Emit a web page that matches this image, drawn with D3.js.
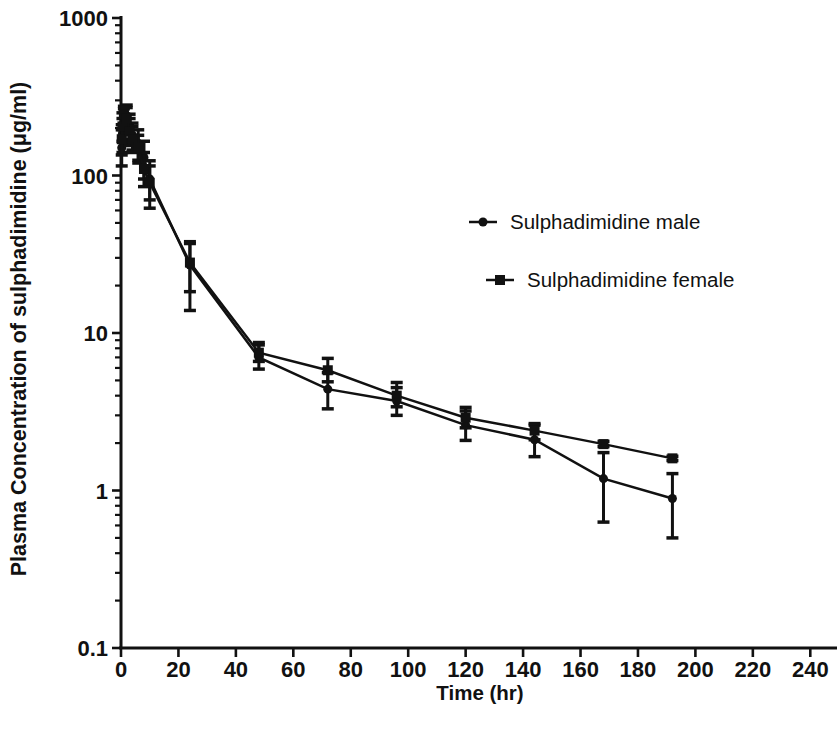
<!DOCTYPE html>
<html>
<head>
<meta charset="utf-8">
<script src="https://cdn.jsdelivr.net/npm/d3@7"></script>
<style>
  body { margin: 0; background: #fff; }
  text { font-family: "Liberation Sans", Arial, sans-serif; fill: #111; }
  .tick-label { font-family: "Liberation Sans Narrow", "Arial Narrow", "Liberation Sans", sans-serif; }
</style>
</head>
<body>
<div id="chart"></div>
<script>
const width = 837;
const height = 734;

// sampling times (hr)
const times = [0.25, 0.5, 1, 2, 3, 4, 6, 8, 10, 24, 48, 72, 96, 120, 144, 168, 192];

// male: mean, lower and upper whisker ends
const maleMean = [150, 185, 220, 240, 200, 180, 160, 130, 95, 27, 7.0, 4.4, 3.7, 2.6, 2.1, 1.19, 0.89];
const maleLow  = [115, 140, 170, 190, 160, 145, 125, 95, 62, 13.9, 5.9, 3.3, 3.0, 2.08, 1.64, 0.63, 0.50];
const maleHigh = [195, 230, 265, 280, 245, 215, 195, 165, 124, 37, 8.4, 5.6, 4.5, 3.2, 2.6, 1.74, 1.28];

// female: mean, lower and upper whisker ends
const femaleMean = [170, 205, 245, 230, 190, 170, 150, 110, 90, 28, 7.5, 5.8, 4.0, 2.9, 2.4, 1.97, 1.6];
const femaleLow  = [135, 165, 200, 185, 155, 140, 120, 85, 70, 18.3, 6.6, 4.9, 3.4, 2.5, 2.1, 1.9, 1.55];
const femaleHigh = [210, 250, 275, 270, 230, 205, 180, 140, 115, 38, 8.7, 6.9, 4.85, 3.37, 2.66, 2.05, 1.65];

const xTicks = [0, 20, 40, 60, 80, 100, 120, 140, 160, 180, 200, 220, 240];
const yTicks = [0.1, 1, 10, 100, 1000];
const yLabels = ['0.1', '1', '10', '100', '1000'];

const seriesNames = ['Sulphadimidine male', 'Sulphadimidine female'];

const toRows = (mean, low, high) =>
  times.map((t, i) => ({t, v: mean[i], lo: low[i], hi: high[i]}));

const series = [
  {name: seriesNames[0], shape: 'circle', rows: toRows(maleMean, maleLow, maleHigh)},
  {name: seriesNames[1], shape: 'square', rows: toRows(femaleMean, femaleLow, femaleHigh)}
];

const x = d3.scaleLinear().domain([0, 250]).range([121, 839]);
const y = d3.scaleLog().domain([0.1, 1000]).range([648, 18]);

const svg = d3.select('#chart').append('svg')
  .attr('width', width)
  .attr('height', height);

// y axis: major ticks plus log minor ticks
const minor = [];
for (let dec = 0.1; dec < 1000; dec *= 10) {
  for (let k = 2; k <= 9; k++) minor.push(+(dec * k).toPrecision(3));
}

const yAxis = svg.append('g').attr('transform', 'translate(121,0)');
yAxis.selectAll('.minor').data(minor).join('line')
  .attr('x1', -6).attr('x2', 0)
  .attr('y1', d => y(d)).attr('y2', d => y(d))
  .attr('stroke', '#111').attr('stroke-width', 2.2);
yAxis.selectAll('.major').data(yTicks).join('line')
  .attr('x1', -9).attr('x2', 0)
  .attr('y1', d => y(d)).attr('y2', d => y(d))
  .attr('stroke', '#111').attr('stroke-width', 2.6);
yAxis.selectAll('text').data(yTicks).join('text')
  .attr('class', 'tick-label')
  .attr('x', -13).attr('y', d => y(d) + 8)
  .attr('text-anchor', 'end')
  .style('font-size', '22px').style('font-weight', 'bold')
  .text((d, i) => yLabels[i]);
yAxis.append('line')
  .attr('x1', 0).attr('x2', 0).attr('y1', 16).attr('y2', 649)
  .attr('stroke', '#111').attr('stroke-width', 3);

// x axis
const xAxis = svg.append('g').attr('transform', 'translate(0,648)');
xAxis.append('line')
  .attr('x1', 119).attr('x2', 837).attr('y1', 0).attr('y2', 0)
  .attr('stroke', '#111').attr('stroke-width', 3);
xAxis.selectAll('.tick').data(xTicks).join('line')
  .attr('x1', d => x(d)).attr('x2', d => x(d))
  .attr('y1', 0).attr('y2', 9)
  .attr('stroke', '#111').attr('stroke-width', 2.6);
xAxis.selectAll('text').data(xTicks).join('text')
  .attr('class', 'tick-label')
  .attr('x', d => x(d)).attr('y', 29)
  .attr('text-anchor', 'middle')
  .style('font-size', '22px').style('font-weight', 'bold')
  .text(d => d);

// axis titles
svg.append('text')
  .attr('x', 480).attr('y', 700)
  .attr('text-anchor', 'middle')
  .style('font-size', '20.5px').style('font-weight', 'bold')
  .text('Time (hr)');
svg.append('text')
  .attr('transform', 'translate(26,329) rotate(-90)')
  .attr('text-anchor', 'middle')
  .style('font-size', '21.5px').style('font-weight', 'bold')
  .text('Plasma Concentration of sulphadimidine (μg/ml)');

const line = d3.line().x(d => x(d.t)).y(d => y(d.v));

const drawMarker = (g, shape, cx, cy) => {
  if (shape === 'circle') {
    g.append('circle').attr('cx', cx).attr('cy', cy).attr('r', 4.5).attr('fill', '#111');
  } else {
    g.append('rect').attr('x', cx - 5).attr('y', cy - 5)
      .attr('width', 10).attr('height', 10).attr('fill', '#111');
  }
};

series.forEach(s => {
  const g = svg.append('g');
  // error bars
  const eb = g.selectAll('.err').data(s.rows).join('g');
  eb.append('line')
    .attr('x1', d => x(d.t)).attr('x2', d => x(d.t))
    .attr('y1', d => y(d.lo)).attr('y2', d => y(d.hi))
    .attr('stroke', '#111').attr('stroke-width', 3);
  eb.append('line')
    .attr('x1', d => x(d.t) - 6).attr('x2', d => x(d.t) + 6)
    .attr('y1', d => y(d.lo)).attr('y2', d => y(d.lo))
    .attr('stroke', '#111').attr('stroke-width', 3.5);
  eb.append('line')
    .attr('x1', d => x(d.t) - 6).attr('x2', d => x(d.t) + 6)
    .attr('y1', d => y(d.hi)).attr('y2', d => y(d.hi))
    .attr('stroke', '#111').attr('stroke-width', 3.5);

  g.append('path')
    .attr('d', line(s.rows))
    .attr('fill', 'none')
    .attr('stroke', '#111')
    .attr('stroke-width', 2.5);

  s.rows.forEach(d => drawMarker(g, s.shape, x(d.t), y(d.v)));
});

// legend
const legendPos = [{lx: 469, ly: 222}, {lx: 486, ly: 280}];
series.forEach((s, i) => {
  const {lx, ly} = legendPos[i];
  const g = svg.append('g');
  g.append('line')
    .attr('x1', lx).attr('x2', lx + 28).attr('y1', ly).attr('y2', ly)
    .attr('stroke', '#111').attr('stroke-width', 2.5);
  drawMarker(g, s.shape, lx + 14, ly);
  g.append('text')
    .attr('x', lx + 41).attr('y', ly + 7)
    .style('font-size', '20.5px')
    .text(s.name);
});
</script>
</body>
</html>
